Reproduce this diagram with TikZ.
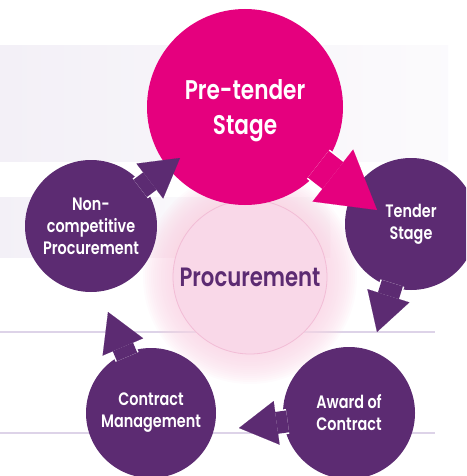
\documentclass[tikz,border=0pt]{standalone}
\usepackage{fontspec}
\setmainfont{Poppins}[FakeStretch=0.8, BoldFont=* SemiBold]
\usetikzlibrary{positioning, arrows.meta}

\definecolor{magentaC}{HTML}{E5007E}
\definecolor{purpleC}{HTML}{5C2B72}
\definecolor{bandC}{HTML}{F3F0F7}
\definecolor{lineC}{HTML}{DDD3E8}
\definecolor{coreC}{HTML}{F9D8E8}
\definecolor{coreEdge}{HTML}{F2BDD6}
\definecolor{glowC}{HTML}{F9D3E4}

\tikzset{
  stage/.style={circle, fill=purpleC, text=white, align=center, inner sep=0pt, outer sep=0pt,
    minimum size=132pt, font=\fontsize{18}{22}\selectfont\bfseries},
  flow/.style={purpleC, line width=22pt, shorten <=-4pt,
    preaction={draw=white, line width=25pt, arrows=-, shorten >=36pt, shorten <=-4pt},
    -{Triangle[length=38pt, width=44pt, line width=0.1pt]}},
  bigflow/.style={magentaC, line width=34pt, shorten <=-5pt,
    preaction={draw=white, line width=37pt, arrows=-, shorten >=54pt, shorten <=-5pt},
    -{Triangle[length=56pt, width=66pt, line width=0.1pt]}},
}

\begin{document}
\begin{tikzpicture}[x=1pt, y=-1pt]
    \useasboundingbox (0,0) rectangle (466,476);
    \clip (0,0) rectangle (466,476);
    \shade[left color=bandC, right color=bandC!30] (0,46) rectangle (448,161);
    \shade[left color=bandC, right color=white] (0,197) rectangle (330,257);
    \draw[lineC, line width=1.5pt] (0,332) -- (435,332);
    \draw[lineC, line width=1.5pt] (0,433) -- (435,433);
    \coordinate (glow) at (250,277);
    \foreach \r in {79,81,...,107}
        \fill[glowC, opacity=0.09] (glow) circle (\r);
    \node[circle, fill=coreC, draw=coreEdge, line width=0.8pt, minimum size=154pt, text=purpleC,
        font=\fontsize{26.5}{30}\selectfont\bfseries] (core) at (glow) {Procurement};
    \node[circle, fill=magentaC, text=white, align=center, inner sep=0pt, outer sep=0pt, minimum size=196pt,
        font=\fontsize{27}{35}\selectfont\bfseries] (pre) at (245,107) {\\[-8pt]Pre-tender\\Stage};
    \node[stage] (tender) at (411,224) {Tender\\Stage};
    \node[stage] (award) at (349,413) {Award of\\Contract};
    \node[stage, minimum size=130pt] (manage) at (151,413) {Contract\\Management};
    \node[stage] (noncomp) at (91,226) {Non-\\competitive\\Procurement};
    \coordinate (tipA) at (377,210);
    \coordinate (tipB) at (377,332);
    \coordinate (tipC) at (239,428);
    \coordinate (tipD) at (108,312);
    \coordinate (tipE) at (180,158);
    \draw[bigflow] (pre) -- (tipA);
    \draw[flow] (tender) -- (tipB);
    \draw[flow] (award) -- (tipC);
    \draw[flow] (manage) -- (tipD);
    \draw[flow] (noncomp) -- (tipE);
\end{tikzpicture}
\end{document}
